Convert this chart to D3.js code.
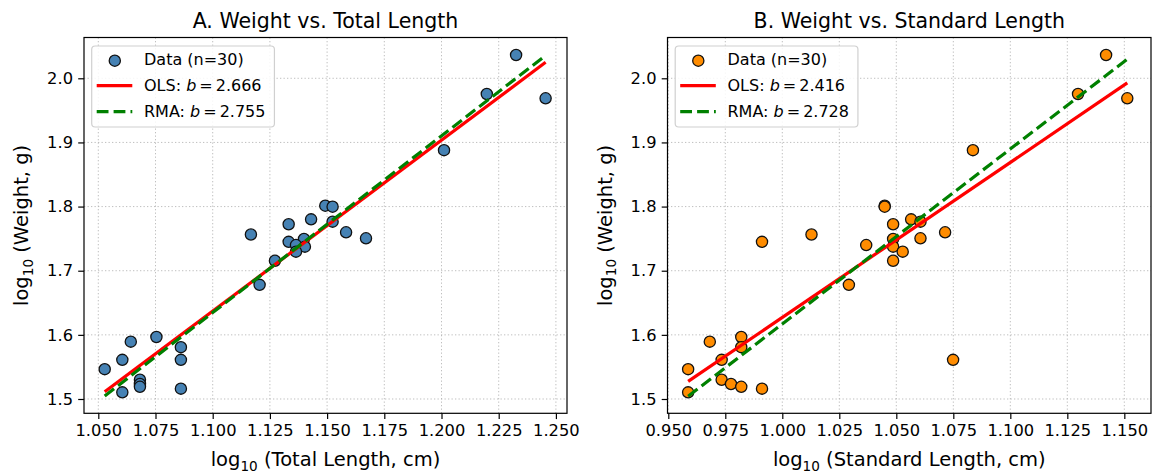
<!DOCTYPE html>
<html><head><meta charset="utf-8">
<script src="https://cdn.jsdelivr.net/npm/d3@7"></script>
<style>
body{margin:0;background:#fff}
svg{display:block}
text{font-family:"DejaVu Sans",sans-serif;fill:#000}
</style>
</head><body><svg id="c" width="1152" height="472"></svg>
<script>
// ---- data (log10 values) ----
const logWeight = [2.0363,1.9755,1.9688,1.8880,1.8014,1.7998,1.7801,1.7765,1.7724,1.7565,
  1.7599,1.7505,1.7450,1.7495,1.7400,1.7375,1.7297,1.7155,1.6780,1.5967,
  1.5894,1.5808,1.5610,1.5610,1.5465,1.5300,1.5234,1.5190,1.5161,1.5104];
const logTotalLength = [1.2326,1.2198,1.2455,1.2011,1.1492,1.1524,1.1430,1.1524,1.1332,1.1167,
  1.1583,1.1670,1.1332,1.1399,1.1364,1.1403,1.1364,1.1272,1.1205,1.0754,
  1.0642,1.0861,1.0605,1.0861,1.0528,1.0682,1.0682,1.0682,1.0861,1.0605];
const logStandardLength = [1.1420,1.1297,1.1513,1.0836,1.0449,1.0449,1.0565,1.0606,1.0486,1.0128,
  1.0714,1.0606,0.9911,1.0486,1.0368,1.0486,1.0528,1.0486,1.0292,0.9820,
  0.9682,0.9820,0.9734,1.0749,0.9587,0.9734,0.9775,0.9820,0.9911,0.9587];
const panelTitles = ["A. Weight vs. Total Length","B. Weight vs. Standard Length"];
const xLabelTexts = ["(Total Length, cm)","(Standard Length, cm)"];
const yLabelText = "(Weight, g)";
const olsSlopes = [2.666, 2.416];
const rmaSlopes = [2.755, 2.728];
const nLabel = "Data (n=30)";
const xTicksA = [1.050,1.075,1.100,1.125,1.150,1.175,1.200,1.225,1.250];
const xTicksB = [0.950,0.975,1.000,1.025,1.050,1.075,1.100,1.125,1.150];
const yTicks = [1.5,1.6,1.7,1.8,1.9,2.0];
const pointColors = ["#4682b4","#ff8c00"];

// ---- layout ----
const svg = d3.select("#c");
const panels = [
  {xs: logTotalLength, left:84, right:567, xdom:[1.04375,1.25485], ticks:xTicksA},
  {xs: logStandardLength, left:667.5, right:1151, xdom:[0.94965,1.1617], ticks:xTicksB}
];
const plotTop = 37.5, plotBottom = 413.3;
const ydom = [1.4777, 2.0636];

panels.forEach((p, i) => {
  const x = d3.scaleLinear().domain(p.xdom).range([p.left, p.right]);
  const y = d3.scaleLinear().domain(ydom).range([plotBottom, plotTop]);
  const g = svg.append("g");

  // grid
  g.append("g").selectAll("line").data(p.ticks).join("line")
    .attr("x1", d => x(d)).attr("x2", d => x(d)).attr("y1", plotTop).attr("y2", plotBottom)
    .attr("stroke", "#b0b0b0").attr("stroke-width", 1).attr("stroke-dasharray", "1.3,2.2").attr("opacity", 0.8);
  g.append("g").selectAll("line").data(yTicks).join("line")
    .attr("y1", d => y(d)).attr("y2", d => y(d)).attr("x1", p.left).attr("x2", p.right)
    .attr("stroke", "#b0b0b0").attr("stroke-width", 1).attr("stroke-dasharray", "1.3,2.2").attr("opacity", 0.8);

  // points
  const pts = p.xs.map((v, k) => [v, logWeight[k]]);
  g.append("g").selectAll("circle").data(pts).join("circle")
    .attr("cx", d => x(d[0])).attr("cy", d => y(d[1])).attr("r", 5.6)
    .attr("fill", pointColors[i]).attr("stroke", "#111").attr("stroke-width", 1.3);

  // regression lines through means
  const mx = d3.mean(p.xs), my = d3.mean(logWeight);
  const [x0, x1] = d3.extent(p.xs);
  const lineFor = b => [[x0, my + b*(x0-mx)], [x1, my + b*(x1-mx)]];
  const lg = d3.line().x(d => x(d[0])).y(d => y(d[1]));
  g.append("path").attr("d", lg(lineFor(olsSlopes[i]))).attr("stroke", "#ff0000")
    .attr("stroke-width", 3.2).attr("fill", "none");
  g.append("path").attr("d", lg(lineFor(rmaSlopes[i]))).attr("stroke", "#008000")
    .attr("stroke-width", 3.2).attr("fill", "none").attr("stroke-dasharray", "11.8,5.1");

  // frame
  g.append("rect").attr("x", p.left).attr("y", plotTop).attr("width", p.right-p.left).attr("height", plotBottom-plotTop)
    .attr("fill", "none").attr("stroke", "#000").attr("stroke-width", 1.2);

  // axes
  const xa = d3.axisBottom(x).tickValues(p.ticks).tickFormat(d3.format(".3f")).tickSize(5.8).tickPadding(5.2);
  const xg = g.append("g").attr("transform", `translate(0,${plotBottom})`).call(xa);
  const ya = d3.axisLeft(y).tickValues(yTicks).tickFormat(d3.format(".1f")).tickSize(5.8).tickPadding(5.2);
  const yg = g.append("g").attr("transform", `translate(${p.left},0)`).call(ya);
  [xg, yg].forEach(a => {
    a.select(".domain").remove();
    a.selectAll(".tick line").attr("stroke", "#000").attr("stroke-width", 1.2);
    a.selectAll(".tick text").attr("font-size", 16.3).attr("font-family", "DejaVu Sans").attr("fill", "#000");
  });

  // title
  g.append("text").attr("x", (p.left+p.right)/2).attr("y", 28).attr("text-anchor", "middle")
    .attr("font-size", 20.5).text(panelTitles[i]);

  // x label
  const xl = g.append("text").attr("x", (p.left+p.right)/2).attr("y", 466).attr("text-anchor", "middle")
    .attr("font-size", 19.5);
  xl.append("tspan").text("log");
  xl.append("tspan").attr("font-size", 13.6).attr("dy", 4.5).text("10");
  xl.append("tspan").attr("dy", -4.5).text(" " + xLabelTexts[i]);

  // y label
  const yc = (plotTop+plotBottom)/2, yx = p.left - 56;
  const yl = g.append("text").attr("transform", `translate(${yx},${yc}) rotate(-90)`)
    .attr("text-anchor", "middle").attr("font-size", 19.5);
  yl.append("tspan").text("log");
  yl.append("tspan").attr("font-size", 13.6).attr("dy", 4.5).text("10");
  yl.append("tspan").attr("dy", -4.5).text(" " + yLabelText);

  // legend
  const lgG = g.append("g");
  const bx = p.left + 7.7, by = 46;
  const box = lgG.append("rect").attr("x", bx).attr("y", by).attr("rx", 3.5).attr("ry", 3.5)
    .attr("height", 81).attr("fill", "#fff").attr("fill-opacity", 0.85)
    .attr("stroke", "#d0d0d0").attr("stroke-width", 1.2);
  const tx = bx + 52.3, hx0 = bx + 5, hx1 = bx + 40.6;
  const rows = [59.7, 85.7, 111.7];
  lgG.append("circle").attr("cx", (hx0+hx1)/2 + 0.3).attr("cy", rows[0] + 1).attr("r", 5.6)
    .attr("fill", pointColors[i]).attr("stroke", "#111").attr("stroke-width", 1.3);
  lgG.append("line").attr("x1", hx0).attr("x2", hx1).attr("y1", rows[1]).attr("y2", rows[1])
    .attr("stroke", "#ff0000").attr("stroke-width", 3.2);
  lgG.append("line").attr("x1", hx0).attr("x2", hx1).attr("y1", rows[2]).attr("y2", rows[2])
    .attr("stroke", "#008000").attr("stroke-width", 3.2).attr("stroke-dasharray", "11.8,5.1");
  const texts = [];
  texts.push(lgG.append("text").attr("x", tx).attr("y", rows[0] + 5.3).attr("font-size", 16).text(nLabel));
  [["OLS: ", olsSlopes[i]], ["RMA: ", rmaSlopes[i]]].forEach((r, k) => {
    const t = lgG.append("text").attr("x", tx).attr("y", rows[k+1] + 5.6).attr("font-size", 16);
    t.append("tspan").text(r[0]);
    t.append("tspan").attr("font-style", "italic").text("b");
    t.append("tspan").attr("dx", 3).text("=");
    t.append("tspan").attr("dx", 3).text(d3.format(".3f")(r[1]));
    texts.push(t);
  });
  const maxW = d3.max(texts, t => t.node().getComputedTextLength()) + 6;
  box.attr("width", (tx - bx) + maxW + 9);
});
</script>
</body></html>
